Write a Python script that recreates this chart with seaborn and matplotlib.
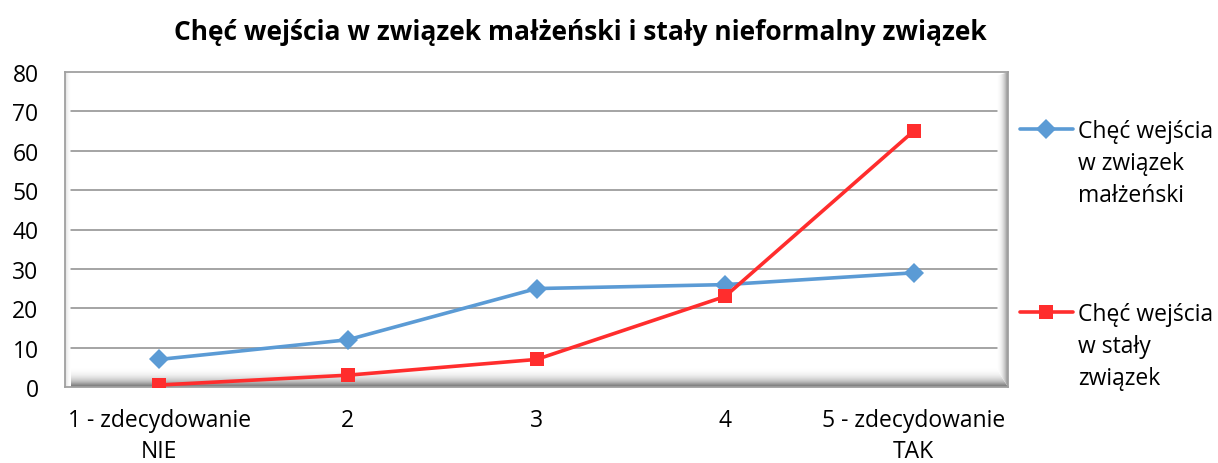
import numpy as np
import pandas as pd
import matplotlib
matplotlib.use("Agg")
import matplotlib.pyplot as plt
import seaborn as sns
from matplotlib.lines import Line2D
from matplotlib.patches import Polygon

categories = ["1 - zdecydowanie\nNIE", "2", "3", "4", "5 - zdecydowanie\nTAK"]
series_names = ["Chęć wejścia\nw związek\nmałżeński", "Chęć wejścia\nw stały\nzwiązek"]
marriage = [7, 12, 25, 26, 29]
informal = [0.5, 3, 7, 23, 65]
title = "Chęć wejścia w związek małżeński i stały nieformalny związek"
colors = ["#5B9BD5", "#FF2D2D"]
y_ticks = [0, 10, 20, 30, 40, 50, 60, 70, 80]

sns.set_theme(style="white")
plt.rcParams['font.family'] = ['Open Sans', 'DejaVu Sans']
plt.rcParams['text.color'] = 'black'
plt.rcParams['xtick.color'] = 'black'
plt.rcParams['ytick.color'] = 'black'

df = pd.DataFrame({
    "x": list(range(len(categories))) * 2,
    "value": marriage + informal,
    "series": [series_names[0]] * 5 + [series_names[1]] * 5,
})

FS = 16.5
fig = plt.figure(figsize=(12.18, 4.64), dpi=100)
ax = fig.add_axes([65 / 1218, 1 - 388 / 464, (1008 - 65) / 1218, (388 - 73) / 464])

ax.set_xlim(-0.5, 4.5)
ax.set_ylim(0, 80)
# 3D-like floor and walls (decoration)
floor_h = 4.6
xr = 4.44
grad = (np.linspace(0, 1, 256) ** 1.6).reshape(-1, 1)
im = ax.imshow(grad, cmap="Greys", vmin=0, vmax=1.55, extent=(-0.5, 4.5, 0, floor_h),
               aspect="auto", origin="upper", zorder=0)
clip = Polygon([(-0.5, 0), (4.5, 0), (xr, floor_h), (-0.47, floor_h)], closed=True,
               transform=ax.transData, facecolor="none", edgecolor="none")
ax.add_patch(clip)
im.set_clip_path(clip)
gradh = (np.linspace(0, 1, 256) ** 1.5).reshape(1, -1)
imr = ax.imshow(gradh, cmap="Greys", vmin=0, vmax=1.6, extent=(xr, 4.5, 0, 80),
                aspect="auto", zorder=0)
cliprw = Polygon([(xr, floor_h), (4.5, 0), (4.5, 80), (xr, 79)], closed=True,
                 transform=ax.transData, facecolor="none", edgecolor="none")
ax.add_patch(cliprw)
imr.set_clip_path(cliprw)
iml = ax.imshow(gradh[:, ::-1], cmap="Greys", vmin=0, vmax=4, extent=(-0.5, -0.47, 0, 80),
                aspect="auto", zorder=0)
ax.set_xlim(-0.5, 4.5)
ax.set_ylim(0, 80)

for t in y_ticks[1:-1]:
    ax.plot([-0.47, xr], [t, t], color="#8C8C8C", lw=1.1, zorder=1)

sns.lineplot(data=df, x="x", y="value", hue="series", style="series",
             palette=colors, markers=["D", "s"], dashes=False, markersize=10,
             markeredgewidth=0, linewidth=2.6, ax=ax, legend=False, zorder=3)

ax.set_xlim(-0.5, 4.5)
ax.set_ylim(0, 80)
ax.set_xticks(range(len(categories)))
ax.set_xticklabels(categories, fontsize=FS, linespacing=1.4)
ax.set_yticks(y_ticks)
ax.set_yticklabels([str(v) for v in y_ticks], fontsize=FS)
ax.tick_params(axis="x", length=0, pad=15)
ax.tick_params(axis="y", length=0, pad=19)
ax.set_xlabel("")
ax.set_ylabel("")
for s in ["top", "left", "right", "bottom"]:
    ax.spines[s].set_color("#A0A0A0")
    ax.spines[s].set_linewidth(1.3)

fig.text(580 / 1218, 1 - 33 / 464, title, ha="center", va="center",
         fontsize=19, fontweight="bold", color="black")

# legend (manual, Excel-like with first-line alignment)
leg_y = [130, 313]
for c, m, yy, name in zip(colors, ["D", "s"], leg_y, series_names):
    fy = 1 - yy / 464
    fig.add_artist(Line2D([1020 / 1218, 1073 / 1218], [fy, fy], color=c, lw=2.6,
                          transform=fig.transFigure))
    fig.add_artist(Line2D([1046 / 1218], [fy], color=c, marker=m, markersize=10,
                          markeredgewidth=0, transform=fig.transFigure))
    fig.text(1078 / 1218, fy + 0.021, name, ha="left", va="top", fontsize=FS,
             linespacing=1.45, color="black")

fig.savefig("out.png", dpi=100)
